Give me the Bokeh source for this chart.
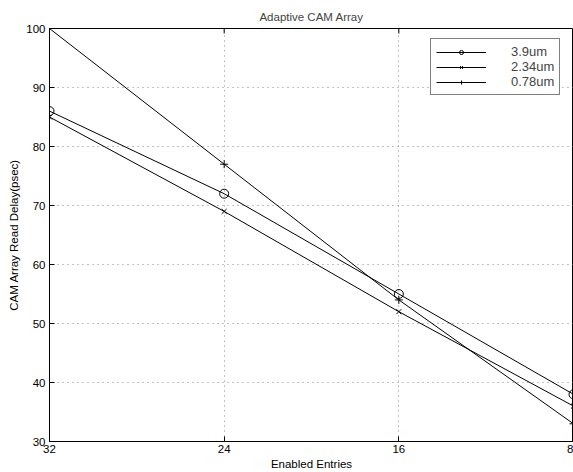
import math
from bokeh.plotting import figure
from bokeh.models import Range1d, FixedTicker, Legend, LegendItem
from bokeh.embed import file_html
from bokeh.resources import INLINE

entries = [32, 24, 16, 8]
delay_3_9um = [86, 72, 55, 38]
delay_2_34um = [85, 69, 52, 36]
delay_0_78um = [100, 77, 54, 33]
series_labels = ["3.9um", "2.34um", "0.78um"]
x_ticks = [8, 16, 24, 32]
y_ticks = [30, 40, 50, 60, 70, 80, 90, 100]

FONT = "Liberation Sans"

p = figure(width=573, height=472,
           x_range=Range1d(32, 8), y_range=Range1d(30, 100),
           output_backend="svg", toolbar_location=None,
           min_border_left=49, min_border_right=0,
           min_border_top=28, min_border_bottom=30,
           title="Adaptive CAM Array")

p.title.align = "center"
p.title.vertical_align = "middle"
p.title.text_font = FONT
p.title.text_font_size = "11.5px"
p.title.text_font_style = "normal"
p.title.standoff = 10
p.title.offset = 0

p.outline_line_color = "black"
p.outline_line_width = 1

for ax in (p.xaxis[0], p.yaxis[0]):
    ax.axis_line_color = "black"
    ax.major_tick_in = 5
    ax.major_tick_out = 0
    ax.minor_tick_line_color = None
    ax.major_label_text_font = FONT
    ax.major_label_text_font_size = "11.5px"
    ax.major_label_text_color = "black"
    ax.axis_label_text_font = FONT
    ax.axis_label_text_font_size = "11.5px"
    ax.axis_label_text_font_style = "normal"
    ax.axis_label_text_color = "black"

p.xaxis.ticker = FixedTicker(ticks=x_ticks)
p.yaxis.ticker = FixedTicker(ticks=y_ticks)
p.xaxis.axis_label = "Enabled Entries"
p.yaxis.axis_label = "CAM Array Read Delay(psec)"
p.xaxis.major_label_standoff = 3
p.xaxis.axis_label_standoff = 2
p.yaxis.major_label_standoff = 4
p.yaxis.axis_label_standoff = 3

p.xgrid.ticker = FixedTicker(ticks=x_ticks)
p.ygrid.ticker = FixedTicker(ticks=y_ticks)
for g in (p.xgrid[0], p.ygrid[0]):
    g.grid_line_color = "#888888"
    g.grid_line_dash = "1 4"
    g.grid_line_width = 1

# mirrored inward ticks on the top edge (MATLAB box style)
p.scatter(x_ticks, [y_ticks[-1]] * len(x_ticks), marker="dash",
          angle=math.pi / 2, size=10, line_color="black", line_width=1)

items = []
series = [delay_3_9um, delay_2_34um, delay_0_78um]
markers = ["circle", "x", "cross"]
sizes = [9, 7, 8]
for vals, lab, mk, sz in zip(series, series_labels, markers, sizes):
    ln = p.line(entries, vals, line_color="black", line_width=1)
    sc = p.scatter(entries, vals, marker=mk, size=sz, line_color="black",
                   fill_color=None, line_width=1)
    items.append(LegendItem(label=lab, renderers=[ln, sc]))

legend = Legend(items=items, location=(381, 346),
                padding=5, spacing=0,
                glyph_width=50, glyph_height=10, label_height=10,
                label_standoff=25,
                label_text_font=FONT, label_text_font_size="13px",
                border_line_color="black", border_line_width=1,
                background_fill_color="white", background_fill_alpha=1)
p.add_layout(legend, "center")

open("out.html", "w").write(file_html(p, INLINE))
